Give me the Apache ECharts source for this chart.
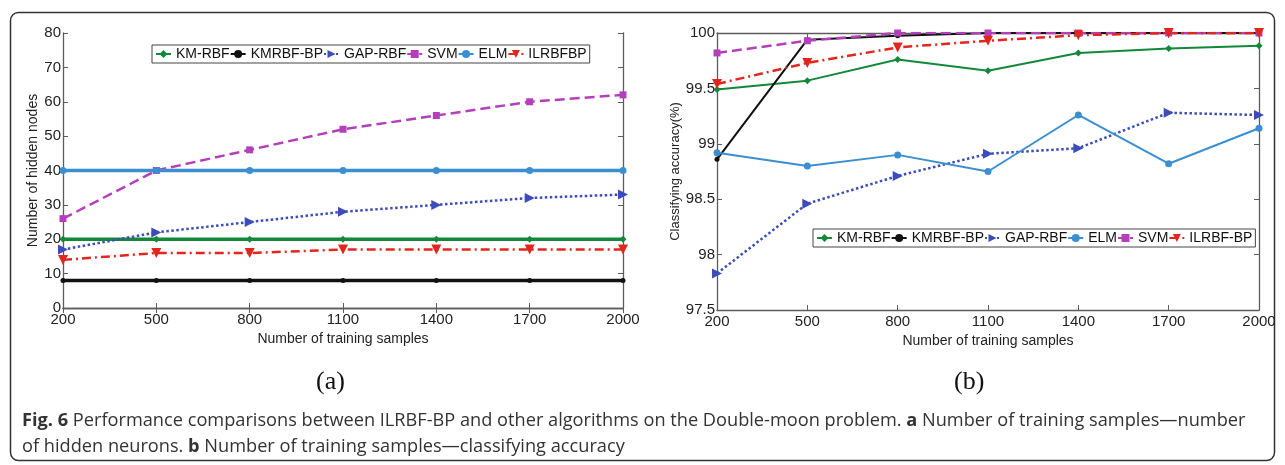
<!DOCTYPE html>
<html>
<head>
<meta charset="utf-8">
<script src="https://cdn.jsdelivr.net/npm/echarts@6/dist/echarts.min.js"></script>
<style>
html,body{margin:0;padding:0;background:#fff;}
#c{width:1285px;height:465px;}
</style>
</head>
<body>
<div id="c"></div>
<script>
// ---- data ----
const categories = ['200', '500', '800', '1100', '1400', '1700', '2000'];

// (a) number of hidden nodes
const nodesKMRBF   = [20, 20, 20, 20, 20, 20, 20];
const nodesKMRBFBP = [8, 8, 8, 8, 8, 8, 8];
const nodesGAPRBF  = [17, 22, 25, 28, 30, 32, 33];
const nodesSVM     = [26, 40, 46, 52, 56, 60, 62];
const nodesELM     = [40, 40, 40, 40, 40, 40, 40];
const nodesILRBFBP = [14, 16, 16, 17, 17, 17, 17];

// (b) classifying accuracy (%)
const accKMRBF   = [99.49, 99.57, 99.76, 99.66, 99.82, 99.86, 99.885];
const accKMRBFBP = [98.86, 99.94, 99.975, 100, 100, 100, 100];
const accGAPRBF  = [97.83, 98.46, 98.71, 98.91, 98.96, 99.28, 99.26];
const accELM     = [98.92, 98.80, 98.90, 98.75, 99.26, 98.82, 99.14];
const accSVM     = [99.82, 99.93, 100, 100, 100, 100, 100];
const accILRBFBP = [99.54, 99.73, 99.87, 99.93, 99.98, 100, 100];

const legendA = ['KM-RBF', 'KMRBF-BP', 'GAP-RBF', 'SVM', 'ELM', 'ILRBFBP'];
const legendB = ['KM-RBF', 'KMRBF-BP', 'GAP-RBF', 'ELM', 'SVM', 'ILRBF-BP'];

// ---- styles ----
const C = {
  green: '#14883a', black: '#111111', blue: '#3c4db9',
  magenta: '#b33fba', lblue: '#3b8fd0', red: '#e3261d'
};
const FONT = '"Liberation Sans", Arial, sans-serif';
const AXC = '#5c5c5c';

function mkSeries(name, data, color, lineType, symbol, size, rot, width, gi) {
  return {
    name, type: 'line', data,
    xAxisIndex: gi * 2, yAxisIndex: gi * 2,
    symbol, symbolSize: size, symbolRotate: rot,
    lineStyle: { color, width, type: lineType },
    itemStyle: { color },
    animation: false, z: 3
  };
}
const DASHDOT = [9, 4, 2, 4];

function xAxes(gi, nameGap) {
  return [{
    type: 'category', data: categories, gridIndex: gi, position: 'bottom',
    boundaryGap: false,
    name: 'Number of training samples', nameLocation: 'middle', nameGap,
    nameTextStyle: { fontFamily: FONT, fontSize: 14, color: '#222' },
    axisLine: { lineStyle: { color: AXC, width: 1.3 } },
    axisTick: { inside: true, length: 5, lineStyle: { color: AXC } },
    axisLabel: { fontFamily: FONT, fontSize: 15, color: '#222', margin: 4, interval: 0 },
    splitLine: { show: false }
  }, {
    type: 'category', data: categories, gridIndex: gi, position: 'top',
    boundaryGap: false,
    axisLine: { lineStyle: { color: AXC, width: 1.3 } },
    axisTick: { inside: true, length: 5, lineStyle: { color: AXC } },
    axisLabel: { show: false }, splitLine: { show: false }
  }];
}
function yAxes(gi, min, max, interval, name, nameGap, nameSize) {
  return [{
    type: 'value', gridIndex: gi, position: 'left', min, max, interval,
    name, nameLocation: 'middle', nameGap,
    nameTextStyle: { fontFamily: FONT, fontSize: nameSize, color: '#222' },
    axisLine: { show: true, lineStyle: { color: AXC, width: 1.3 } },
    axisTick: { show: true, inside: true, length: 5, lineStyle: { color: AXC } },
    axisLabel: { fontFamily: FONT, fontSize: 15, color: '#222', margin: 2 },
    splitLine: { show: false }
  }, {
    type: 'value', gridIndex: gi, position: 'right', min, max, interval,
    axisLine: { show: true, lineStyle: { color: AXC, width: 1.3 } },
    axisTick: { show: true, inside: true, length: 5, lineStyle: { color: AXC } },
    axisLabel: { show: false }, splitLine: { show: false }
  }];
}

const legendCommon = {
  orient: 'horizontal', itemWidth: 15, itemHeight: 10, itemGap: 0,
  padding: [2, 3], borderColor: '#444', borderWidth: 1, backgroundColor: '#fff',
  textStyle: { fontFamily: FONT, fontSize: 14, color: '#111' }
};

const CAPFONT = '"Open Sans", sans-serif';

const option = {
  backgroundColor: '#fff',
  animation: false,
  grid: [
    { left: 63, top: 33, width: 560, height: 275 },
    { left: 717, top: 33, width: 542, height: 277 }
  ],
  xAxis: [...xAxes(0, 16), ...xAxes(1, 14)],
  yAxis: [
    ...yAxes(0, 0, 80, 10, 'Number of hidden nodes', 23, 14),
    ...yAxes(1, 97.5, 100, 0.5, 'Classifying accuracy(%)', 34, 13)
  ],
  legend: [
    Object.assign({}, legendCommon, { left: 152, top: 45, data: legendA }),
    Object.assign({}, legendCommon, { left: 813, top: 229, data: legendB })
  ],
  series: [
    mkSeries('KM-RBF', nodesKMRBF, C.green, 'solid', 'diamond', 7, 0, 3.5, 0),
    mkSeries('KMRBF-BP', nodesKMRBFBP, C.black, 'solid', 'circle', 5, 0, 3.5, 0),
    mkSeries('GAP-RBF', nodesGAPRBF, C.blue, 'dotted', 'triangle', 10, -90, 2.5, 0),
    mkSeries('SVM', nodesSVM, C.magenta, 'dashed', 'rect', 7, 0, 2.5, 0),
    mkSeries('ELM', nodesELM, C.lblue, 'solid', 'circle', 7, 0, 3.5, 0),
    mkSeries('ILRBFBP', nodesILRBFBP, C.red, DASHDOT, 'triangle', 10, 180, 2.5, 0),

    mkSeries('KM-RBF', accKMRBF, C.green, 'solid', 'diamond', 7, 0, 2, 1),
    mkSeries('KMRBF-BP', accKMRBFBP, C.black, 'solid', 'circle', 5, 0, 2, 1),
    mkSeries('GAP-RBF', accGAPRBF, C.blue, 'dotted', 'triangle', 10, -90, 2.5, 1),
    mkSeries('ELM', accELM, C.lblue, 'solid', 'circle', 7, 0, 2, 1),
    mkSeries('SVM', accSVM, C.magenta, 'dashed', 'rect', 7, 0, 2.5, 1),
    mkSeries('ILRBF-BP', accILRBFBP, C.red, DASHDOT, 'triangle', 10, 180, 2.5, 1)
  ],
  graphic: [
    { type: 'rect', shape: { x: 10.5, y: 12.5, width: 1264, height: 448, r: 8 },
      style: { fill: 'none', stroke: '#333', lineWidth: 1.5 }, silent: true, z: -1 },
    { type: 'text', left: 316, top: 369,
      style: { text: '(a)', font: '26px "Liberation Serif", "Times New Roman", serif', fill: '#111' } },
    { type: 'text', left: 954, top: 369,
      style: { text: '(b)', font: '26px "Liberation Serif", "Times New Roman", serif', fill: '#111' } },
    { type: 'text', left: 22, top: 412,
      style: {
        text: '{b|Fig. 6} Performance comparisons between ILRBF-BP and other algorithms on the Double-moon problem. {b|a} Number of training samples\u2014number',
        font: '18.2px ' + CAPFONT, fill: '#333',
        rich: { b: { fontWeight: 'bold', fontFamily: CAPFONT, fontSize: 18.2, fill: '#333' } }
      } },
    { type: 'text', left: 22, top: 438,
      style: {
        text: 'of hidden neurons. {b|b} Number of training samples\u2014classifying accuracy',
        font: '18.2px ' + CAPFONT, fill: '#333',
        rich: { b: { fontWeight: 'bold', fontFamily: CAPFONT, fontSize: 18.2, fill: '#333' } }
      } }
  ]
};

const chart = echarts.init(document.getElementById('c'), null, { renderer: 'canvas' });
chart.setOption(option);
</script>
</body>
</html>
